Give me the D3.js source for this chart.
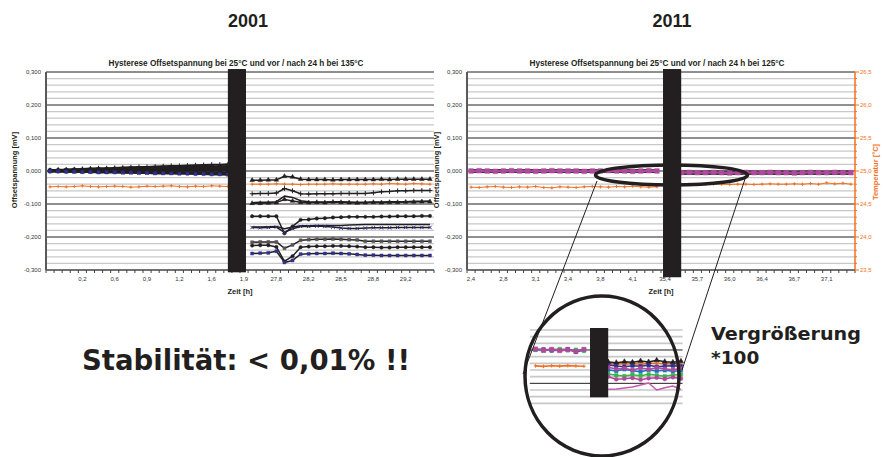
<!DOCTYPE html>
<html><head><meta charset="utf-8">
<script src="https://cdn.jsdelivr.net/npm/d3@7"></script>
<style>body{margin:0;background:#fff}svg{display:block}</style>
</head><body>
<svg id="c" width="884" height="457"></svg>
<script>
// ================= DATA =================
const tickCats = [0,4,8,12,16,20,24,28,32,36,40,44];
const ticks2001 = ["","0,2","0,6","0,9","1,2","1,6","1,9","27,8","28,2","28,5","28,8","29,2"];
const ticks2011 = ["2,4","2,8","3,1","3,4","3,8","4,1","35,4","35,7","36,0","36,4","36,7","37,1"];
const yTicksMV = [-0.3,-0.2,-0.1,0,0.1,0.2,0.3];
const yTicksTemp = [23.5,24.0,24.5,25.0,25.5,26.0,26.5];

// 2001: categories before / after the 24 h break
const cats2001Pre  = d3.range(0,23);
const cats2001Post = d3.range(25,48);
const pre2001 = [
 [0.002,0.003,0.004,0.005,0.006,0.007,0.008,0.008,0.009,0.010,0.011,0.012,0.012,0.013,0.014,0.015,0.015,0.016,0.017,0.018,0.019,0.019,0.020],
 [0.002,0.002,0.003,0.004,0.004,0.005,0.006,0.006,0.007,0.007,0.008,0.009,0.009,0.010,0.010,0.011,0.011,0.012,0.012,0.013,0.013,0.014,0.015],
 [0.001,0.002,0.002,0.003,0.003,0.004,0.004,0.005,0.005,0.006,0.006,0.007,0.007,0.007,0.008,0.008,0.009,0.009,0.010,0.010,0.010,0.011,0.011],
 [0.001,0.001,0.002,0.002,0.002,0.003,0.003,0.003,0.004,0.004,0.004,0.005,0.005,0.005,0.006,0.006,0.006,0.007,0.007,0.007,0.008,0.008,0.008],
 [0.000,0.001,0.001,0.001,0.001,0.002,0.002,0.002,0.002,0.002,0.003,0.003,0.003,0.003,0.004,0.004,0.004,0.004,0.004,0.005,0.005,0.005,0.005],
 [0.000,0.000,0.000,0.000,0.000,0.000,0.001,0.001,0.001,0.001,0.001,0.001,0.001,0.001,0.001,0.001,0.001,0.002,0.002,0.002,0.002,0.002,0.002],
 [0.000,0.000,-0.001,-0.001,-0.001,-0.001,-0.001,-0.002,-0.002,-0.002,-0.002,-0.002,-0.003,-0.003,-0.003,-0.003,-0.003,-0.004,-0.004,-0.004,-0.004,-0.004,-0.005],
 [-0.001,-0.001,-0.001,-0.002,-0.002,-0.002,-0.003,-0.003,-0.003,-0.004,-0.004,-0.004,-0.005,-0.005,-0.005,-0.006,-0.006,-0.006,-0.007,-0.007,-0.007,-0.008,-0.008],
 [-0.001,-0.001,-0.002,-0.002,-0.003,-0.003,-0.004,-0.004,-0.004,-0.005,-0.005,-0.006,-0.006,-0.007,-0.007,-0.007,-0.008,-0.008,-0.009,-0.009,-0.010,-0.010,-0.011]
];
const post2001 = [
 [-0.028,-0.028,-0.027,-0.027,-0.016,-0.018,-0.025,-0.026,-0.026,-0.026,-0.027,-0.026,-0.026,-0.026,-0.026,-0.026,-0.025,-0.026,-0.025,-0.025,-0.025,-0.025,-0.025],
 [-0.069,-0.068,-0.068,-0.067,-0.053,-0.060,-0.069,-0.070,-0.069,-0.069,-0.069,-0.068,-0.068,-0.068,-0.068,-0.066,-0.063,-0.062,-0.060,-0.060,-0.059,-0.059,-0.059],
 [-0.096,-0.095,-0.095,-0.093,-0.076,-0.080,-0.090,-0.093,-0.094,-0.094,-0.093,-0.093,-0.094,-0.095,-0.095,-0.094,-0.094,-0.093,-0.093,-0.093,-0.092,-0.092,-0.091],
 [-0.098,-0.098,-0.097,-0.096,-0.086,-0.091,-0.095,-0.096,-0.095,-0.096,-0.094,-0.095,-0.096,-0.097,-0.096,-0.095,-0.096,-0.095,-0.095,-0.094,-0.094,-0.093,-0.093],
 [-0.137,-0.137,-0.137,-0.137,-0.189,-0.168,-0.148,-0.147,-0.144,-0.143,-0.141,-0.140,-0.139,-0.139,-0.139,-0.139,-0.138,-0.138,-0.137,-0.137,-0.137,-0.136,-0.136],
 [-0.170,-0.170,-0.169,-0.168,-0.175,-0.170,-0.166,-0.166,-0.165,-0.165,-0.165,-0.165,-0.164,-0.163,-0.162,-0.162,-0.162,-0.162,-0.162,-0.162,-0.162,-0.162,-0.162],
 [-0.171,-0.172,-0.171,-0.170,-0.186,-0.175,-0.168,-0.168,-0.167,-0.168,-0.170,-0.173,-0.174,-0.174,-0.173,-0.172,-0.172,-0.172,-0.171,-0.171,-0.171,-0.171,-0.171],
 [-0.216,-0.215,-0.215,-0.215,-0.234,-0.224,-0.210,-0.208,-0.207,-0.207,-0.206,-0.207,-0.208,-0.209,-0.213,-0.213,-0.213,-0.213,-0.213,-0.213,-0.213,-0.213,-0.213],
 [-0.226,-0.225,-0.225,-0.230,-0.274,-0.258,-0.231,-0.229,-0.228,-0.228,-0.227,-0.227,-0.228,-0.229,-0.231,-0.231,-0.232,-0.232,-0.231,-0.231,-0.231,-0.231,-0.231],
 [-0.250,-0.249,-0.248,-0.243,-0.277,-0.271,-0.252,-0.251,-0.250,-0.250,-0.249,-0.250,-0.251,-0.253,-0.255,-0.255,-0.256,-0.256,-0.256,-0.256,-0.256,-0.256,-0.256]
];
const temp2001Pre  = [24.760,24.765,24.760,24.765,24.775,24.765,24.760,24.765,24.770,24.765,24.755,24.760,24.770,24.765,24.770,24.775,24.765,24.760,24.770,24.765,24.775,24.770,24.765];
const temp2001Post = [24.800,24.800,24.800,24.805,24.800,24.800,24.795,24.800,24.800,24.800,24.805,24.800,24.800,24.800,24.800,24.805,24.800,24.810,24.805,24.800,24.810,24.805,24.800];

// 2011
const cats2011Pre  = d3.range(0,24);
const cats2011Post = d3.range(26,48);
const pre2011 = [
 [0.003,0.003,0.002,0.003,0.003,0.002,0.003,0.003,0.003,0.002,0.003,0.003,0.002,0.003,0.003,0.003,0.002,0.003,0.003,0.002,0.003,0.003,0.003,0.002],
 [-0.003,-0.003,-0.002,-0.003,-0.003,-0.003,-0.002,-0.003,-0.003,-0.003,-0.002,-0.003,-0.003,-0.002,-0.003,-0.003,-0.003,-0.002,-0.003,-0.003,-0.003,-0.002,-0.003,-0.003],
 [0.000,0.001,0.000,-0.001,0.000,0.001,0.000,0.000,-0.001,0.000,0.001,0.000,0.000,0.000,-0.001,0.000,0.000,0.001,0.000,0.000,-0.001,0.000,0.001,0.000]
];
const post2011 = [
 [-0.001,-0.001,-0.002,-0.001,-0.001,-0.001,-0.002,-0.001,-0.001,-0.001,-0.002,-0.001,-0.001,-0.001,-0.002,-0.001,-0.001,-0.001,-0.002,-0.001,-0.001,-0.001],
 [-0.009,-0.009,-0.008,-0.009,-0.009,-0.009,-0.008,-0.009,-0.009,-0.009,-0.008,-0.009,-0.009,-0.009,-0.008,-0.009,-0.009,-0.009,-0.008,-0.009,-0.009,-0.009],
 [-0.005,-0.004,-0.005,-0.005,-0.004,-0.005,-0.006,-0.005,-0.004,-0.005,-0.005,-0.004,-0.005,-0.005,-0.006,-0.005,-0.004,-0.005,-0.005,-0.004,-0.005,-0.005]
];
const temp2011Pre  = [24.755,24.750,24.760,24.765,24.755,24.750,24.760,24.755,24.765,24.750,24.745,24.760,24.755,24.750,24.760,24.765,24.760,24.755,24.765,24.760,24.770,24.760,24.755,24.760];
const temp2011Post = [24.795,24.800,24.795,24.800,24.805,24.800,24.795,24.800,24.800,24.795,24.800,24.805,24.800,24.800,24.805,24.800,24.810,24.800,24.820,24.805,24.815,24.800];

// magnified detail (x100)
const catsZoomPre  = d3.range(17,24);
const catsZoomPost = d3.range(26,36);
const zoomPre = [
 [0.00001,0.00002,-0.00002,0.00000,0.00003,-0.00006,0.00000],
 [0.00000,-0.00002,0.00001,0.00003,-0.00001,0.00001,-0.00003],
 [0.00003,-0.00001,0.00002,-0.00002,0.00001,-0.00004,0.00002]
];
const zoomPost = [
 [-0.00036,-0.00038,-0.00035,-0.00037,-0.00033,-0.00036,-0.00031,-0.00035,-0.00037,-0.00034],
 [-0.00045,-0.00048,-0.00050,-0.00047,-0.00049,-0.00046,-0.00050,-0.00048,-0.00047,-0.00049],
 [-0.00060,-0.00063,-0.00058,-0.00062,-0.00065,-0.00060,-0.00063,-0.00061,-0.00064,-0.00062],
 [-0.00052,-0.00057,-0.00055,-0.00060,-0.00054,-0.00058,-0.00053,-0.00056,-0.00059,-0.00055],
 [-0.00072,-0.00076,-0.00078,-0.00074,-0.00077,-0.00073,-0.00076,-0.00079,-0.00075,-0.00074],
 [-0.00080,-0.00088,-0.00086,-0.00084,-0.00089,-0.00085,-0.00083,-0.00087,-0.00082,-0.00086],
 [-0.00118,-0.00117,-0.00114,-0.00111,-0.00105,-0.00099,-0.00120,-0.00113,-0.00108,-0.00118]
];
const zoomTempPre  = [24.752,24.744,24.755,24.748,24.756,24.750,24.746];
const zoomTempPost = [24.785,24.790,24.780,24.788,24.782,24.790,24.795,24.784,24.788,24.782];

// ================= DRAWING =================
const BLACK = "#231f20", ORANGE = "#f37021", PURPLE = "#b04a9e", NAVY = "#2e3192";
const SANS = "Liberation Sans, Arial, sans-serif";
const VERD = "DejaVu Sans, Verdana, sans-serif";
const svg = d3.select("#c");

const y  = d3.scaleLinear().domain([-0.3,0.3]).range([270,72]);
const tY = d3.scaleLinear().domain([23.5,26.5]).range([270,72]);
const xL = d3.scaleLinear().domain([-0.5,47.5]).range([46,434]);
const xR = d3.scaleLinear().domain([-0.5,47.5]).range([467,855]);

const fmtMV = d => (d < 0 ? "-" : "") + Math.abs(d).toFixed(3).replace(".", ",");
const fmtT  = d => d.toFixed(1).replace(".", ",");

function grid(g, x0, x1, ys, minorVals, majorVals, gw) {
  g.selectAll(null).data(minorVals).enter().append("line")
    .attr("x1", x0).attr("x2", x1).attr("y1", d => ys(d)).attr("y2", d => ys(d))
    .attr("stroke", "#c8c8c8").attr("stroke-width", gw || 1.3);
  g.selectAll(null).data(majorVals).enter().append("line")
    .attr("x1", x0).attr("x2", x1).attr("y1", d => ys(d)).attr("y2", d => ys(d))
    .attr("stroke", BLACK).attr("stroke-width", 1);
}

function series(g, x, ys, cats, vals, color, w, mtype, mcolor, msize) {
  const pts = vals.map((v, i) => [cats[i], v]);
  g.append("path").datum(pts)
    .attr("d", d3.line().x(d => x(d[0])).y(d => ys(d[1])))
    .attr("fill", "none").attr("stroke", color).attr("stroke-width", w).attr("stroke-linejoin", "round");
  if (!mtype) return;
  const sym = {tri: d3.symbolTriangle, sq: d3.symbolSquare, circ: d3.symbolCircle,
               x: d3.symbolTimes, plus: d3.symbolPlus, cross: d3.symbolCross}[mtype];
  const strokeOnly = (mtype === "x" || mtype === "plus");
  g.selectAll(null).data(pts).enter().append("path")
    .attr("transform", d => `translate(${x(d[0])},${ys(d[1])})`)
    .attr("d", d3.symbol(sym, msize))
    .attr("fill", strokeOnly ? "none" : (mcolor || color))
    .attr("stroke", mcolor || color).attr("stroke-width", strokeOnly ? 1 : 0.5);
}

function panel(x, p) {
  const g = svg.append("g");
  const [x0, x1] = x.range();
  const minor = d3.range(-14, 15).filter(k => k % 5 !== 0).map(k => k * 0.02);
  grid(g, x0, x1, y, minor, yTicksMV.filter(v => v > -0.3));
  g.append("line").attr("x1", x0).attr("x2", x1).attr("y1", y(-0.3)).attr("y2", y(-0.3))
    .attr("stroke", "#444").attr("stroke-width", 1.5);
  g.selectAll(null).data(d3.range(0, 49).map(k => k - 0.5)).enter().append("line")
    .attr("x1", d => x(d)).attr("x2", d => x(d)).attr("y1", y(-0.3)).attr("y2", y(-0.3) + 3)
    .attr("stroke", "#444").attr("stroke-width", 1);
  g.append("line").attr("x1", x0).attr("x2", x0).attr("y1", y(0.3)).attr("y2", y(-0.3))
    .attr("stroke", "#5a5a5a").attr("stroke-width", 2);
  g.selectAll(null).data(yTicksMV).enter().append("text")
    .attr("x", x0 - 5).attr("y", d => y(d)).attr("dy", "0.35em").attr("text-anchor", "end")
    .attr("font-family", SANS).attr("font-size", 6).attr("fill", "#333").text(fmtMV);
  g.selectAll(null).data(tickCats).enter().append("text")
    .attr("x", d => x(d)).attr("y", y(-0.3) + 10.5).attr("text-anchor", "middle")
    .attr("font-family", SANS).attr("font-size", 6).attr("fill", "#333")
    .text((d, i) => p.labels[i]);
  g.append("text").attr("x", p.titleX).attr("y", 66).attr("text-anchor", "middle")
    .attr("font-family", SANS).attr("font-weight", "bold").attr("font-size", 8.2).attr("fill", BLACK)
    .text(p.title);
  g.append("text").attr("x", p.zeitX).attr("y", 294).attr("text-anchor", "middle")
    .attr("font-family", SANS).attr("font-weight", "bold").attr("font-size", 7.5).attr("fill", BLACK)
    .text("Zeit [h]");
  g.append("text").attr("transform", `translate(${p.yTitleX},170) rotate(-90)`).attr("text-anchor", "middle")
    .attr("font-family", SANS).attr("font-weight", "bold").attr("font-size", 7.5).attr("fill", BLACK)
    .text("Offsetspannung [mV]");
  g.append("text").attr("x", (x0 + x1) / 2 + p.bigDx).attr("y", 27).attr("text-anchor", "middle")
    .attr("font-family", SANS).attr("font-weight", "bold").attr("font-size", 18).attr("fill", BLACK)
    .text(p.big);
  return g;
}

// ---------- 2001 ----------
const gL = panel(xL, {labels: ticks2001, title: "Hysterese Offsetspannung bei 25°C und vor / nach 24 h bei 135°C",
  titleX: 236, zeitX: 240, yTitleX: 17, big: "2001", bigDx: 8});
series(gL, xL, tY, cats2001Pre, temp2001Pre, ORANGE, 1, "plus", ORANGE, 4);
series(gL, xL, tY, cats2001Post, temp2001Post, ORANGE, 1, "plus", ORANGE, 4);
const preMk = ["plus","sq","tri","x","circ","plus","sq","x","sq"];
pre2001.forEach((s, i) => series(gL, xL, y, cats2001Pre, s, BLACK, 2.2, preMk[i], i === 8 ? NAVY : BLACK, 10));
const postMk = ["tri","plus",null,"tri","circ",null,"x","sq","circ","sq"];
const postMc = [BLACK,BLACK,BLACK,BLACK,BLACK,BLACK,NAVY,"#555",BLACK,NAVY];
post2001.forEach((s, i) => series(gL, xL, y, cats2001Post, s, BLACK, 1.5, postMk[i], postMc[i], 9));

// ---------- 2011 ----------
const gR = panel(xR, {labels: ticks2011, title: "Hysterese Offsetspannung bei 25°C und vor / nach 24 h bei 125°C",
  titleX: 657, zeitX: 661, yTitleX: 439, big: "2011", bigDx: 11});
gR.append("line").attr("x1", 855).attr("x2", 855).attr("y1", tY(26.5)).attr("y2", tY(23.5))
  .attr("stroke", ORANGE).attr("stroke-width", 1.5);
gR.selectAll(null).data(d3.range(0, 31).map(k => 23.5 + k * 0.1)).enter().append("line")
  .attr("x1", 855).attr("x2", (d, i) => 855 + (i % 5 === 0 ? 4 : 2)).attr("y1", d => tY(d)).attr("y2", d => tY(d))
  .attr("stroke", ORANGE).attr("stroke-width", 1);
gR.selectAll(null).data(yTicksTemp).enter().append("text")
  .attr("x", 860).attr("y", d => tY(d)).attr("dy", "0.35em")
  .attr("font-family", SANS).attr("font-size", 6).attr("fill", ORANGE).text(fmtT);
gR.append("text").attr("transform", "translate(878,172) rotate(-90)").attr("text-anchor", "middle")
  .attr("font-family", SANS).attr("font-weight", "bold").attr("font-size", 7.5).attr("fill", ORANGE)
  .text("Temperatur [°C]");
series(gR, xR, tY, cats2011Pre, temp2011Pre, ORANGE, 1, "plus", ORANGE, 4);
series(gR, xR, tY, cats2011Post, temp2011Post, ORANGE, 1, "plus", ORANGE, 4);
[0,1].forEach(i => {
  series(gR, xR, y, cats2011Pre, pre2011[i], "#3a3a3a", 2, null);
  series(gR, xR, y, cats2011Post, post2011[i], "#3a3a3a", 2, null);
});
series(gR, xR, y, cats2011Pre, pre2011[2], PURPLE, 2, "sq", PURPLE, 22);
series(gR, xR, y, cats2011Post, post2011[2], PURPLE, 2, "sq", PURPLE, 22);

// black cover bars (annotation)
const barTop = 0.309;
gL.append("rect").attr("x", xL(22.0)).attr("width", xL(24.24) - xL(22.0))
  .attr("y", y(barTop)).attr("height", y(-0.307) - y(barTop)).attr("fill", BLACK);
gR.append("rect").attr("x", xR(23.75)).attr("width", xR(26.0) - xR(23.75))
  .attr("y", y(barTop)).attr("height", y(-0.322) - y(barTop)).attr("fill", BLACK);

// ---------- magnifier ----------
const gZ = svg.append("g");
const xZ = d3.scaleLinear().domain([-0.5,47.5]).range([394,782]);
const yZ = d3.scaleLinear().domain([0.0006,-0.0016]).range([330,403.33]);
const tZ = d3.scaleLinear().domain([24.75,24.80]).range([366,363]);
const zx0 = xZ(16.3), zx1 = xZ(35.2);
const zMinor = d3.range(-8, 4).filter(k => k % 5 !== 0).map(k => k * 0.0002);
grid(gZ, zx0, zx1, yZ, zMinor, [0, -0.001], 1.6);
series(gZ, xZ, tZ, catsZoomPre, zoomTempPre, ORANGE, 1.6, "plus", ORANGE, 5);
series(gZ, xZ, tZ, catsZoomPost, zoomTempPost, ORANGE, 1.6, "plus", ORANGE, 5);
series(gZ, xZ, yZ, catsZoomPre, zoomPre[0], NAVY, 1.5, "sq", NAVY, 12);
series(gZ, xZ, yZ, catsZoomPre, zoomPre[1], "#39b54a", 1.5, "sq", "#39b54a", 12);
series(gZ, xZ, yZ, catsZoomPre, zoomPre[2], PURPLE, 2, "sq", PURPLE, 18);
const zCol = [BLACK, NAVY, "#1b75bc", PURPLE, "#39b54a", "#b5479c", "#c45ab3"];
const zMk  = ["tri", "sq", "sq", "sq", "sq", "circ", null];
zoomPost.forEach((s, i) => series(gZ, xZ, yZ, catsZoomPost, s, zCol[i], 1.5, zMk[i], zCol[i], 12));
gZ.append("rect").attr("x", xZ(23.75)).attr("width", xZ(26.0) - xZ(23.75))
  .attr("y", yZ(0.00066)).attr("height", yZ(-0.00142) - yZ(0.00066)).attr("fill", BLACK);

// ellipse around the zero line, magnifier circle and connectors
const ell = {cx: xR(24.8), cy: y(-0.012), rx: 76, ry: 10};
svg.append("ellipse").attr("cx", ell.cx).attr("cy", ell.cy).attr("rx", ell.rx).attr("ry", ell.ry)
  .attr("fill", "none").attr("stroke", BLACK).attr("stroke-width", 3.5);
const circ = {cx: 602, cy: 376, rx: 77, ry: 80};
svg.append("ellipse").attr("cx", circ.cx).attr("cy", circ.cy).attr("rx", circ.rx).attr("ry", circ.ry)
  .attr("fill", "none").attr("stroke", BLACK).attr("stroke-width", 3.5);
svg.append("line").attr("x1", 597).attr("y1", 181).attr("x2", 523).attr("y2", 374).attr("stroke", BLACK).attr("stroke-width", 1);
svg.append("line").attr("x1", 745).attr("y1", 179).attr("x2", 682).attr("y2", 370).attr("stroke", BLACK).attr("stroke-width", 1);

// ---------- big texts ----------
svg.append("text").attr("x", 711).attr("y", 340).attr("font-family", VERD).attr("font-weight", "bold")
  .attr("font-size", 18.5).attr("fill", BLACK).attr("textLength", 150).attr("lengthAdjust", "spacingAndGlyphs").text("Vergrößerung");
svg.append("text").attr("x", 711).attr("y", 364).attr("font-family", VERD).attr("font-weight", "bold")
  .attr("font-size", 18.5).attr("fill", BLACK).text("*100");
svg.append("text").attr("x", 82).attr("y", 370).attr("font-family", VERD).attr("font-weight", "bold")
  .attr("font-size", 28).attr("fill", BLACK).attr("textLength", 328).attr("lengthAdjust", "spacingAndGlyphs")
  .text("Stabilität: < 0,01% !!");
</script>
</body></html>
